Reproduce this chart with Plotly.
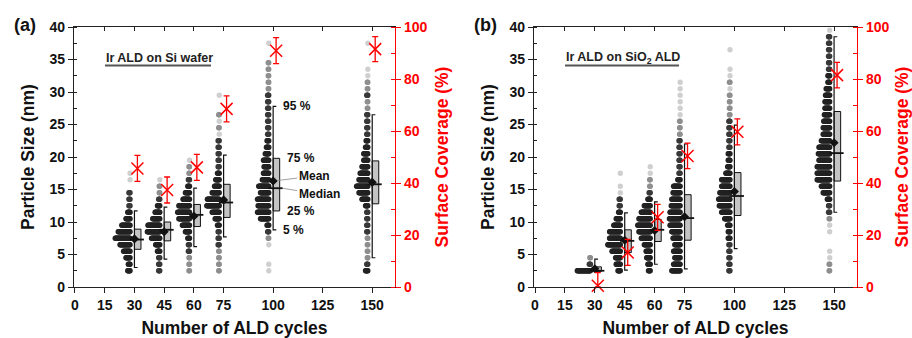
import plotly.graph_objects as go

# ---------------- data ----------------
CYCLES = [30, 45, 60, 75, 100, 150]
X_TICKS = [0, 15, 30, 45, 60, 75, 100, 125, 150]
BIN_START = 2.5  # centre (nm) of the first 1-nm size bin

# particle counts per 1-nm bin (starting at 2.5 nm) -- panel (a) Si wafer
a_counts_30 = [5, 4, 8, 12, 18, 26, 21, 15, 8, 5, 3, 3, 3, 0, 1, 1]
a_counts_45 = [3, 3, 3, 5, 8, 15, 22, 21, 13, 9, 5, 3, 2, 2, 1]
a_counts_60 = [2, 2, 2, 3, 3, 4, 8, 13, 19, 21, 19, 12, 8, 4, 3, 2, 2, 1]
a_counts_75 = [2, 2, 2, 2, 3, 3, 3, 4, 8, 13, 22, 21, 13, 9, 7, 4, 3, 3, 3, 3, 3, 1, 2, 1, 2, 0, 0, 1]
a_counts_100 = [1, 1, 0, 0, 1, 2, 3, 4, 15, 20, 19, 20, 15, 18, 12, 10, 9, 10, 7, 5, 4, 3, 3, 3,
                3, 3, 3, 3, 2, 2, 2, 2, 2, 0, 0, 1]
a_counts_150 = [5, 3, 2, 2, 2, 2, 3, 3, 3, 3, 5, 11, 16, 20, 16, 14, 11, 8, 8, 5, 4, 3, 3, 3,
                3, 2, 2, 3, 2, 2, 1, 1, 0, 0, 0, 1]

# panel (b) SiO2 ALD
b_counts_30 = [23, 3, 2]
b_counts_45 = [5, 8, 9, 15, 22, 19, 19, 12, 8, 4, 3, 3, 1, 1, 0, 1]
b_counts_60 = [4, 5, 7, 8, 11, 16, 20, 22, 20, 16, 11, 5, 3, 2, 2, 1, 1]
b_counts_75 = [15, 12, 10, 12, 10, 13, 15, 18, 19, 18, 16, 15, 13, 12, 5, 3, 3, 3, 3, 3,
               3, 2, 2, 2, 1, 1, 1, 1, 1, 1]
b_counts_100 = [3, 3, 3, 3, 3, 4, 4, 5, 10, 15, 19, 20, 18, 15, 15, 8, 5, 4, 4, 3, 3, 3, 3, 3,
                2, 2, 2, 2, 1, 2, 1, 1, 0, 0, 1]
b_counts_150 = [2, 2, 1, 1, 0, 0, 1, 1, 2, 3, 3, 5, 12, 15, 22, 22, 22, 19, 20, 19, 15, 12, 12,
                11, 10, 9, 9, 8, 7, 4, 4, 3, 3, 3, 3, 3, 3, 1]

# box statistics (nm)
a_p5 = [3.0, 4.3, 6.2, 7.7, 8.8, 4.5]
a_q1 = [5.8, 7.1, 9.3, 10.7, 11.7, 12.8]
a_median = [7.3, 8.8, 11.1, 13.0, 15.2, 15.8]
a_mean = [7.4, 8.5, 10.9, 13.4, 16.3, 16.1]
a_q3 = [8.9, 10.0, 12.7, 15.8, 19.8, 19.4]
a_p95 = [11.7, 12.3, 15.2, 20.3, 27.8, 26.5]

b_p5 = [2.4, 2.6, 3.5, 2.8, 5.9, 11.5]
b_q1 = [2.4, 5.3, 7.0, 7.2, 11.0, 16.3]
b_median = [2.5, 7.1, 8.8, 10.6, 14.0, 20.6]
b_mean = [2.8, 7.2, 8.7, 10.8, 14.7, 22.2]
b_q3 = [3.1, 8.8, 10.4, 14.2, 17.6, 27.0]
b_p95 = [4.3, 11.4, 13.1, 22.0, 24.9, 38.5]

# surface coverage (%)
a_coverage = [45.6, 37.3, 46.0, 68.5, 90.9, 91.5]
a_coverage_err = [5.0, 5.0, 5.0, 5.0, 5.0, 4.8]
b_coverage = [0.5, 13.3, 26.8, 50.4, 59.7, 81.5]
b_coverage_err = [5.0, 5.0, 5.0, 4.9, 5.0, 4.9]

# ---------------- style ----------------
FONT = "Liberation Sans, Arial, sans-serif"
RED = "#ff0000"
AXC = "#222222"
DOT_STEP = 0.3      # x-units between stacked particle dots
DOT_OFFSET = 2.2    # gap between category position and first dot
BOX_W = 3.3
CAP = 1.6


def shade(n):
    if n <= 1:
        return "#cfcfcf"
    if n == 2:
        return "#8e8e8e"
    if n == 3:
        return "#383838"
    return "#222222"


fig = go.Figure()


def add_panel(xa, ya, ya2, counts, p5, q1, med, mean, q3, p95, cov, err):
    xs, ys, cs = [], [], []
    for c, cnt in zip(CYCLES, counts):
        for i, n in enumerate(cnt):
            v = BIN_START + i
            for k in range(n):
                xs.append(c - DOT_OFFSET - k * DOT_STEP)
                ys.append(v)
                cs.append(shade(n))
    fig.add_trace(go.Scatter(x=xs, y=ys, mode="markers", xaxis=xa, yaxis=ya,
                             marker=dict(size=5.3, color=cs, line=dict(width=0)),
                             hoverinfo="skip", showlegend=False))
    # boxes
    fig.add_trace(go.Bar(x=[c + BOX_W / 2 for c in CYCLES],
                         y=[b - a for a, b in zip(q1, q3)], base=q1, width=BOX_W,
                         xaxis=xa, yaxis=ya,
                         marker=dict(color="#c4c4c4", line=dict(color="#111", width=1)),
                         hoverinfo="skip", showlegend=False))
    # whiskers
    wx, wy = [], []
    for c, lo, hi in zip(CYCLES, p5, p95):
        wx += [c + CAP, c, c, c + CAP, None]
        wy += [hi, hi, lo, lo, None]
    fig.add_trace(go.Scatter(x=wx, y=wy, mode="lines", xaxis=xa, yaxis=ya,
                             line=dict(color="#111", width=1.2),
                             hoverinfo="skip", showlegend=False))
    # medians
    mx, my = [], []
    for c, m in zip(CYCLES, med):
        mx += [c - 2.4, c + 4.8, None]
        my += [m, m, None]
    fig.add_trace(go.Scatter(x=mx, y=my, mode="lines", xaxis=xa, yaxis=ya,
                             line=dict(color="#111", width=1.8),
                             hoverinfo="skip", showlegend=False))
    # means
    fig.add_trace(go.Scatter(x=CYCLES, y=mean, mode="markers", xaxis=xa, yaxis=ya,
                             marker=dict(symbol="diamond", size=7, color="#111"),
                             hoverinfo="skip", showlegend=False))
    # coverage
    fig.add_trace(go.Scatter(x=[c + 1.5 for c in CYCLES], y=cov, mode="markers",
                             xaxis=xa, yaxis=ya2, cliponaxis=False,
                             marker=dict(symbol="x-thin", size=12, color=RED,
                                         line=dict(color=RED, width=1.5)),
                             error_y=dict(type="data", array=err,
                                          arrayminus=[min(e, v) for e, v in zip(err, cov)],
                                          color=RED, thickness=1.3, width=3),
                             hoverinfo="skip", showlegend=False))


add_panel("x", "y", "y2",
          [a_counts_30, a_counts_45, a_counts_60, a_counts_75, a_counts_100, a_counts_150],
          a_p5, a_q1, a_median, a_mean, a_q3, a_p95, a_coverage, a_coverage_err)
add_panel("x2", "y3", "y4",
          [b_counts_30, b_counts_45, b_counts_60, b_counts_75, b_counts_100, b_counts_150],
          b_p5, b_q1, b_median, b_mean, b_q3, b_p95, b_coverage, b_coverage_err)

# invisible traces so the top tick axes are drawn
fig.add_trace(go.Scatter(x=[0], y=[0], xaxis="x3", yaxis="y", mode="markers",
                         marker=dict(opacity=0), hoverinfo="skip", showlegend=False))
fig.add_trace(go.Scatter(x=[0], y=[0], xaxis="x4", yaxis="y3", mode="markers",
                         marker=dict(opacity=0), hoverinfo="skip", showlegend=False))

W, H = 912, 338
Y_DOM = [1 - 287 / H, 1 - 27 / H]
XA_DOM = [74 / W, 395 / W]
XB_DOM = [534 / W, 857 / W]
X_RANGE = [-0.5, 161.5]

tickfont = dict(family=FONT, size=14, color="#111", weight="bold")
titlefont = dict(family=FONT, size=17.5, color="#111", weight="bold")
redtick = dict(family=FONT, size=14, color=RED, weight="bold")
redtitle = dict(family=FONT, size=17.5, color=RED, weight="bold")


def xaxis(dom, anchor):
    return dict(domain=dom, range=X_RANGE, anchor=anchor, tickvals=X_TICKS,
                ticks="outside", ticklen=5, tickwidth=1.2, tickcolor=AXC,
                showline=True, linewidth=1.3, linecolor=AXC, showgrid=False,
                zeroline=False, automargin=False, tickfont=tickfont,
                title=dict(text="Number of ALD cycles", font=titlefont, standoff=9))


def xtop(over, anchor):
    return dict(overlaying=over, side="top", anchor=anchor, range=X_RANGE,
                tickvals=X_TICKS, ticks="inside", ticklen=4, tickwidth=1.2,
                tickcolor=AXC, showticklabels=False, showline=True, linewidth=1.3,
                linecolor=AXC, showgrid=False, zeroline=False, automargin=False)


def yleft(anchor):
    return dict(domain=Y_DOM, range=[0, 40], anchor=anchor, tick0=0, dtick=5,
                ticks="outside", ticklen=5, tickwidth=1.2, tickcolor=AXC,
                minor=dict(dtick=2.5, ticks="inside", ticklen=3, tickcolor=AXC, tickwidth=1),
                showline=True, linewidth=1.3, linecolor=AXC, showgrid=False,
                zeroline=False, automargin=False, tickfont=tickfont,
                title=dict(text="Particle Size (nm)", font=titlefont, standoff=10))


def yright(over, anchor):
    return dict(overlaying=over, side="right", anchor=anchor, range=[0, 100],
                tick0=0, dtick=20, ticks="outside", ticklen=5, tickwidth=1.2,
                tickcolor=RED, minor=dict(dtick=10, ticks="inside", ticklen=4,
                                          tickcolor=RED, tickwidth=1),
                showline=True, linewidth=1.3, linecolor=RED, showgrid=False,
                zeroline=False, automargin=False, tickfont=redtick,
                title=dict(text="Surface Coverage (%)", font=redtitle, standoff=9))


ann_font = dict(family=FONT, size=12, color="#111", weight="bold")
annotations = [
    dict(text="(a)", x=12 / W, y=1 - 25 / H, xref="paper", yref="paper",
         xanchor="left", yanchor="middle", showarrow=False,
         font=dict(family=FONT, size=18, color="#111", weight="bold")),
    dict(text="(b)", x=472 / W, y=1 - 25 / H, xref="paper", yref="paper",
         xanchor="left", yanchor="middle", showarrow=False,
         font=dict(family=FONT, size=18, color="#111", weight="bold")),
    dict(text="Ir ALD on Si wafer", x=104 / W, y=1 - 58 / H, xref="paper",
         yref="paper", xanchor="left", yanchor="middle", showarrow=False,
         font=dict(family=FONT, size=12.5, color="#222", weight="bold")),
    dict(text="Ir ALD on SiO<sub>2</sub> ALD", x=564 / W, y=1 - 58 / H,
         xref="paper", yref="paper", xanchor="left", yanchor="middle",
         showarrow=False, font=dict(family=FONT, size=12.5, color="#222", weight="bold")),
    dict(text="95 %", x=104.0, y=a_p95[4], xref="x", yref="y", xanchor="left",
         yanchor="middle", showarrow=False, font=ann_font),
    dict(text="75 %", x=106.0, y=a_q3[4], xref="x", yref="y", xanchor="left",
         yanchor="middle", showarrow=False, font=ann_font),
    dict(text="25 %", x=106.0, y=a_q1[4], xref="x", yref="y", xanchor="left",
         yanchor="middle", showarrow=False, font=ann_font),
    dict(text="5 %", x=104.0, y=a_p5[4], xref="x", yref="y", xanchor="left",
         yanchor="middle", showarrow=False, font=ann_font),
    dict(text="Mean", x=CYCLES[4], y=a_mean[4], xref="x", yref="y", ax=41, ay=-5,
         showarrow=True, arrowhead=0, arrowwidth=0.8, arrowcolor="#888",
         standoff=4, font=ann_font),
    dict(text="Median", x=CYCLES[4] + 4.5, y=a_median[4], xref="x", yref="y",
         ax=37, ay=6, showarrow=True, arrowhead=0, arrowwidth=0.8,
         arrowcolor="#888", standoff=1, font=ann_font),
]

# underlines of the two sample labels
shapes = [
    dict(type="line", xref="paper", yref="paper", x0=105 / W, x1=211 / W,
         y0=1 - 65.5 / H, y1=1 - 65.5 / H, line=dict(color="#555", width=1.8)),
    dict(type="line", xref="paper", yref="paper", x0=565 / W, x1=679 / W,
         y0=1 - 65.5 / H, y1=1 - 65.5 / H, line=dict(color="#555", width=1.8)),
]

fig.update_layout(
    width=W, height=H, margin=dict(l=0, r=0, t=0, b=0, pad=0),
    paper_bgcolor="white", plot_bgcolor="white", showlegend=False,
    font=dict(family=FONT, color="#111"),
    xaxis=xaxis(XA_DOM, "y"), xaxis2=xaxis(XB_DOM, "y3"),
    xaxis3=xtop("x", "y"), xaxis4=xtop("x2", "y3"),
    yaxis=yleft("x"), yaxis2=yright("y", "x"),
    yaxis3=yleft("x2"), yaxis4=yright("y3", "x2"),
    annotations=annotations, shapes=shapes,
)

fig.write_html("out.html")
